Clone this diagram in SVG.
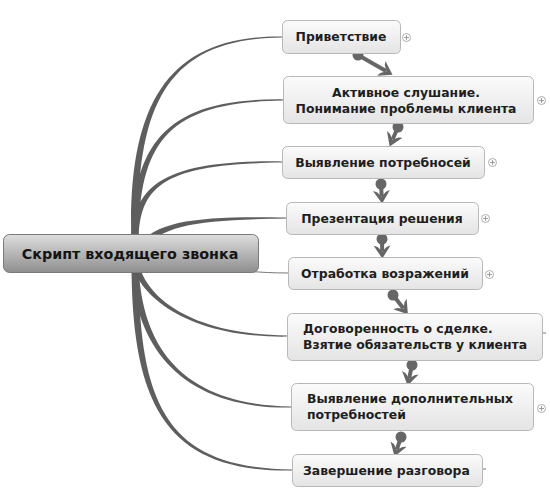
<svg xmlns="http://www.w3.org/2000/svg" width="550" height="494" viewBox="0 0 550 494">
<defs>
<linearGradient id="gc" x1="0" y1="0" x2="0" y2="1">
<stop offset="0" stop-color="#dedede"/><stop offset="0.5" stop-color="#b6b6b6"/><stop offset="1" stop-color="#8e8e8e"/>
</linearGradient>
<linearGradient id="gn" x1="0" y1="0" x2="0" y2="1">
<stop offset="0" stop-color="#fbfbfb"/><stop offset="1" stop-color="#e4e4e4"/>
</linearGradient>
<marker id="ah" viewBox="0 -10 13 20" refX="5.5" refY="0" markerWidth="13" markerHeight="20" markerUnits="userSpaceOnUse" orient="auto">
<path d="M13,0 L0,-8.5 L1.5,-4.5 L6,0 L1.5,4.5 L0,8.5 Z" fill="#666"/>
</marker>
<marker id="dot" viewBox="-6 -6 12 12" refX="0" refY="0" markerWidth="12" markerHeight="12" markerUnits="userSpaceOnUse">
<circle r="5.5" fill="#666"/>
</marker>
</defs>
<style>
.br{fill:#5e5e5e;stroke:none}
.thin{fill:none;stroke:#777;stroke-width:1}
.fl{fill:none;stroke:#666;stroke-width:4;marker-start:url(#dot);marker-end:url(#ah)}
.box{fill:url(#gn);stroke:#b8b8b8;stroke-width:1}
.t{font-family:"DejaVu Sans","Verdana",sans-serif;font-weight:bold;font-size:12.4px;fill:#1e1e1e}
.pl{fill:#fff;stroke:#999;stroke-width:0.8}
.pp{stroke:#888;stroke-width:0.8}
</style>
<g id="connectors">
<!-- branches from central node -->
<path class="br" d="M131.5,245 C126.5,100 170,35.5 282,36.4 L282,37.6 C170,38.5 134,100 138.5,245 Z"/>
<path class="br" d="M131.5,245 C131.5,143.5 165,98 283,99.4 L283,100.6 C165,102 138.5,143.5 138.5,245 Z"/>
<path class="br" d="M131.5,245 C131.5,187 160,160 282,161.4 L282,162.6 C160,164 138.5,187 138.5,245 Z"/>
<path class="br" d="M137.2,246 C157.2,219.8 200,216 286,217.4 L286,218.6 C200,220 162.8,224.2 142.8,250.2 Z"/>
<path class="thin" d="M140,258 C200,262 230,273 288,273"/>
<path class="br" d="M131.5,262 C136.5,290 180,338 287,336.6 L287,335.4 C180,334 143.5,290 138.5,262 Z"/>
<path class="br" d="M131.5,262 C133.5,350 185,409 291,407.6 L291,406.4 C185,405 140.5,350 138.5,262 Z"/>
<path class="br" d="M131.5,262 C131.5,408 168,472 292,470.6 L292,469.4 C168,468 138.5,408 138.5,262 Z"/>
<!-- flow arrows -->
<path class="fl" d="M358,55 L386,71"/>
<path class="fl" d="M398,127 L392.6,139.5"/>
<path class="fl" d="M381,184 L381.7,196"/>
<path class="fl" d="M382,239 L382.2,251"/>
<path class="fl" d="M393,295 L403.3,308.3"/>
<path class="fl" d="M412,365 L409.2,378.1"/>
<path class="fl" d="M401,437 L396.9,449.3"/>
<!-- stubs -->
<path class="thin" d="M542.5,333 L546,333"/>
<path class="thin" d="M482.5,469 L486,469"/>
</g>
<g id="root">
<rect x="3.5" y="234.5" width="255" height="38" rx="6" fill="url(#gc)" stroke="#7a7a7a"/>
<text x="130" y="259" text-anchor="middle" style="font-family:'DejaVu Sans',sans-serif;font-weight:bold;font-size:14.3px;fill:#141414">Скрипт входящего звонка</text>
</g>
<g id="n1">
<rect class="box" x="282.5" y="20.5" width="118" height="33" rx="5"/>
<text class="t" x="341" y="41" text-anchor="middle">Приветствие</text>
<circle class="pl" cx="406.5" cy="37.5" r="4"/><path class="pp" d="M404,37.5 H409 M406.5,35 V40"/>
</g>
<g id="n2">
<rect class="box" x="283.5" y="76.5" width="250" height="47" rx="5"/>
<text class="t" x="406" y="97" text-anchor="middle">Активное слушание.</text>
<text class="t" x="406" y="113" text-anchor="middle">Понимание проблемы клиента</text>
<circle class="pl" cx="541.5" cy="100.5" r="4"/><path class="pp" d="M539,100.5 H544 M541.5,98 V103"/>
</g>
<g id="n3">
<rect class="box" x="282.5" y="146.5" width="202" height="32" rx="5"/>
<text class="t" x="383" y="167" text-anchor="middle">Выявление потребносей</text>
<circle class="pl" cx="492.5" cy="162.5" r="4"/><path class="pp" d="M490,162.5 H495 M492.5,160 V165"/>
</g>
<g id="n4">
<rect class="box" x="286.5" y="202.5" width="192" height="32" rx="5"/>
<text class="t" x="382" y="223" text-anchor="middle">Презентация решения</text>
<circle class="pl" cx="485.5" cy="218.5" r="4"/><path class="pp" d="M483,218.5 H488 M485.5,216 V221"/>
</g>
<g id="n5">
<rect class="box" x="288.5" y="257.5" width="194" height="32" rx="5"/>
<text class="t" x="385" y="278" text-anchor="middle">Отработка возражений</text>
<circle class="pl" cx="489.5" cy="274.5" r="4"/><path class="pp" d="M487,274.5 H492 M489.5,272 V277"/>
</g>
<g id="n6">
<rect class="box" x="287.5" y="313.5" width="255" height="47" rx="5"/>
<text class="t" x="303" y="333">Договоренность о сделке.</text>
<text class="t" x="303" y="349">Взятие обязательств у клиента</text>
</g>
<g id="n7">
<rect class="box" x="291.5" y="383.5" width="242" height="47" rx="5"/>
<text class="t" x="307" y="403">Выявление дополнительных</text>
<text class="t" x="307" y="419">потребностей</text>
<circle class="pl" cx="541.5" cy="408.5" r="4"/><path class="pp" d="M539,408.5 H544 M541.5,406 V411"/>
</g>
<g id="n8">
<rect class="box" x="292.5" y="454.5" width="190" height="32" rx="5"/>
<text class="t" x="303" y="475">Завершение разговора</text>
</g>
</svg>
